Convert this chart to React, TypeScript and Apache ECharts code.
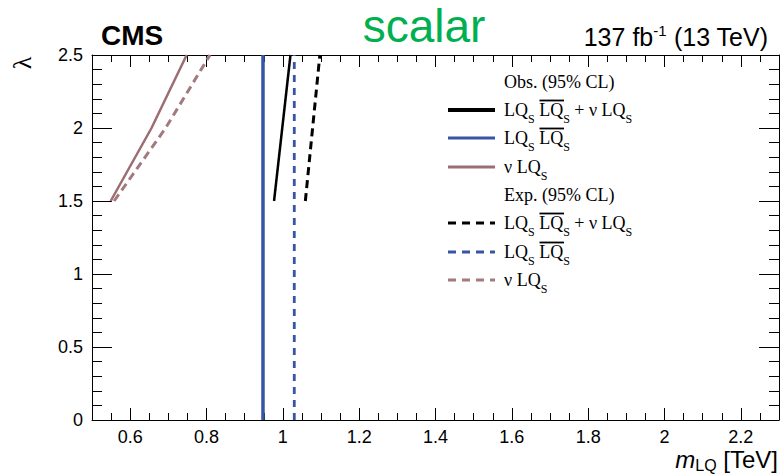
import React, { useEffect, useRef } from "react";
import * as echarts from "echarts";

// ---- data (m_LQ in TeV vs lambda) ----
const lambdaObsComb = [1.5, 2.5];
const massObsComb = [0.977, 1.02];
const lambdaObsPair = [0, 2.5];
const massObsPair = [0.948, 0.948];
const lambdaObsSingle = [1.5, 2.0, 2.5];
const massObsSingle = [0.549, 0.656, 0.748];
const lambdaExpComb = [1.5, 2.5];
const massExpComb = [1.059, 1.097];
const lambdaExpPair = [0, 2.5];
const massExpPair = [1.03, 1.03];
const lambdaExpSingle = [1.5, 2.0, 2.5];
const massExpSingle = [0.558, 0.693, 0.809];

const xMin = 0.5;
const xMax = 2.3;
const yMin = 0;
const yMax = 2.5;

const BLACK = "#000000";
const BLUE = "#3755a5";
const BROWN = "#9b6e73";
const BROWN_D = "#a27a7f";

const SERIF = "'Liberation Serif', 'Times New Roman', serif";
const SANS = "'Liberation Sans', Arial, Helvetica, sans-serif";

const pairs = (ms: number[], ls: number[]) => ms.map((m, i) => [m, ls[i]]);

const legendHeaderObs = "Obs. (95% CL)";
const legendHeaderExp = "Exp. (95% CL)";
const labelComb = "{n|LQ}{s|S}{n| LQ}{s|S}{n| + \u03bd LQ}{s|S}";
const labelPair = "{n|LQ}{s|S}{n| LQ}{s|S}";
const labelSingle = "{n|\u03bd LQ}{s|S}";

export default function App() {
  const ref = useRef<HTMLDivElement>(null);
  useEffect(() => {
    document.body.style.margin = "0";
    const chart = echarts.init(ref.current!, null, { renderer: "svg", width: 780, height: 474 });

    const rich = {
      n: { fontFamily: SERIF, fontSize: 18, lineHeight: 30, color: "#000" },
      s: { fontFamily: SERIF, fontSize: 12, lineHeight: 12, padding: [18, 0, 0, 0], color: "#000" },
    };
    const lx0 = 448;
    const lx1 = 495;
    const tx = 504;
    const rows = [
      { y: 82, header: legendHeaderObs },
      { y: 110, label: labelComb, color: BLACK, width: 4, dash: "solid", over: true },
      { y: 138, label: labelPair, color: BLUE, width: 3, dash: "solid", over: true },
      { y: 167, label: labelSingle, color: BROWN, width: 3, dash: "solid", over: false },
      { y: 195, header: legendHeaderExp },
      { y: 223, label: labelComb, color: BLACK, width: 3, dash: [8, 6], over: true },
      { y: 252, label: labelPair, color: BLUE, width: 3, dash: [8, 6], over: true },
      { y: 280, label: labelSingle, color: BROWN_D, width: 3, dash: [8, 6], over: false },
    ];
    const legendEls: any[] = [];
    rows.forEach((r: any) => {
      if (r.header) {
        legendEls.push({
          type: "text",
          x: tx,
          y: r.y,
          style: { text: r.header, font: `18px ${SERIF}`, fill: "#000", verticalAlign: "middle", align: "left" },
        });
        return;
      }
      legendEls.push({
        type: "line",
        shape: { x1: lx0, y1: r.y, x2: lx1, y2: r.y },
        style: { stroke: r.color, lineWidth: r.width, lineDash: r.dash === "solid" ? null : r.dash },
      });
      legendEls.push({
        type: "text",
        x: tx,
        y: r.y,
        style: { text: r.label, rich, verticalAlign: "middle", align: "left", fill: "#000" },
      });
      if (r.over) {
        legendEls.push({
          type: "line",
          shape: { x1: 539.5, y1: r.y - 9.5, x2: 564, y2: r.y - 9.5 },
          style: { stroke: "#000", lineWidth: 1.8 },
        });
      }
    });

    const axisCommonX = {
      type: "value",
      min: xMin,
      max: xMax,
      minInterval: 0.2,
      maxInterval: 0.2,
      splitNumber: 9,
      splitLine: { show: false },
      axisLine: { show: true, onZero: false, lineStyle: { color: "#000", width: 1 } },
      axisTick: { show: true, inside: true, length: 12, lineStyle: { color: "#000", width: 1 } },
      minorTick: { show: true, splitNumber: 4, length: 7, lineStyle: { color: "#000", width: 1 } },
      minorSplitLine: { show: false },
    };
    const axisCommonY = {
      type: "value",
      min: yMin,
      max: yMax,
      interval: 0.5,
      splitLine: { show: false },
      axisLine: { show: true, onZero: false, lineStyle: { color: "#000", width: 1 } },
      axisTick: { show: true, inside: true, length: 20, lineStyle: { color: "#000", width: 1 } },
      minorTick: { show: true, splitNumber: 5, length: 10, lineStyle: { color: "#000", width: 1 } },
      minorSplitLine: { show: false },
    };

    const option: any = {
      animation: false,
      backgroundColor: "#ffffff",
      grid: { left: 92, right: 1, top: 55, bottom: 54, containLabel: false, outerBoundsMode: "none" },
      xAxis: [
        {
          ...axisCommonX,
          position: "bottom",
          axisLabel: {
            show: true,
            showMinLabel: false,
            showMaxLabel: false,
            margin: 8,
            fontSize: 18,
            fontFamily: SANS,
            color: "#000",
            formatter: (v: number) => String(Math.round(v * 10) / 10),
          },
        },
        { ...axisCommonX, position: "top", axisLabel: { show: false } },
      ],
      yAxis: [
        {
          ...axisCommonY,
          position: "left",
          axisLabel: {
            show: true,
            margin: 9,
            fontSize: 18,
            fontFamily: SANS,
            color: "#000",
            formatter: (v: number) => String(Math.round(v * 10) / 10),
          },
        },
        { ...axisCommonY, position: "right", axisLabel: { show: false } },
      ],
      series: [
        {
          name: "obs comb",
          type: "line",
          data: pairs(massObsComb, lambdaObsComb),
          showSymbol: false,
          symbol: "none",
          lineStyle: { color: BLACK, width: 2.5 },
          z: 5,
        },
        {
          name: "obs pair",
          type: "line",
          data: pairs(massObsPair, lambdaObsPair),
          showSymbol: false,
          symbol: "none",
          lineStyle: { color: BLUE, width: 3.5 },
        },
        {
          name: "obs single",
          type: "line",
          data: pairs(massObsSingle, lambdaObsSingle),
          showSymbol: false,
          symbol: "none",
          lineStyle: { color: BROWN, width: 2.5 },
        },
        {
          name: "exp comb",
          type: "line",
          data: pairs(massExpComb, lambdaExpComb),
          showSymbol: false,
          symbol: "none",
          lineStyle: { color: BLACK, width: 3, type: [8, 5] },
        },
        {
          name: "exp pair",
          type: "line",
          data: pairs(massExpPair, lambdaExpPair),
          showSymbol: false,
          symbol: "none",
          lineStyle: { color: BLUE, width: 2.8, type: [7, 6] },
        },
        {
          name: "exp single",
          type: "line",
          data: pairs(massExpSingle, lambdaExpSingle),
          showSymbol: false,
          symbol: "none",
          lineStyle: { color: BROWN_D, width: 3, type: [8, 5] },
        },
      ],
      graphic: [
        {
          type: "text",
          x: 101,
          y: 35,
          style: { text: "CMS", font: `bold 28px ${SANS}`, fill: "#000", verticalAlign: "middle", align: "left" },
        },
        {
          type: "text",
          x: 424,
          y: 26,
          style: { text: "scalar", font: `46px ${SANS}`, fill: "#00b050", verticalAlign: "middle", align: "center" },
        },
        {
          type: "text",
          x: 768,
          y: 37,
          style: {
            text: "{n|137 fb}{p|-1}{n| (13 TeV)}",
            align: "right",
            verticalAlign: "middle",
            rich: {
              n: { fontFamily: SANS, fontSize: 25, lineHeight: 30, color: "#000" },
              p: { fontFamily: SANS, fontSize: 15, lineHeight: 15, padding: [0, 0, 14, 0], color: "#000" },
            },
          },
        },
        {
          type: "text",
          x: 22,
          y: 63,
          rotation: Math.PI / 2,
          style: { text: "\u03bb", font: `26px ${SERIF}`, fill: "#000", verticalAlign: "middle", align: "center" },
        },
        {
          type: "text",
          x: 778,
          y: 459,
          style: {
            text: "{i|m}{s|LQ}{n| [TeV]}",
            align: "right",
            verticalAlign: "middle",
            rich: {
              i: { fontFamily: SANS, fontStyle: "italic", fontSize: 24, lineHeight: 20, color: "#000" },
              s: { fontFamily: SANS, fontSize: 16, lineHeight: 8, padding: [12, 0, 0, 0], color: "#000" },
              n: { fontFamily: SANS, fontSize: 24, lineHeight: 20, color: "#000" },
            },
          },
        },
        ...legendEls,
      ],
    };
    chart.setOption(option);
    return () => chart.dispose();
  }, []);
  return <div ref={ref} style={{ width: 780, height: 474 }} />;
}
